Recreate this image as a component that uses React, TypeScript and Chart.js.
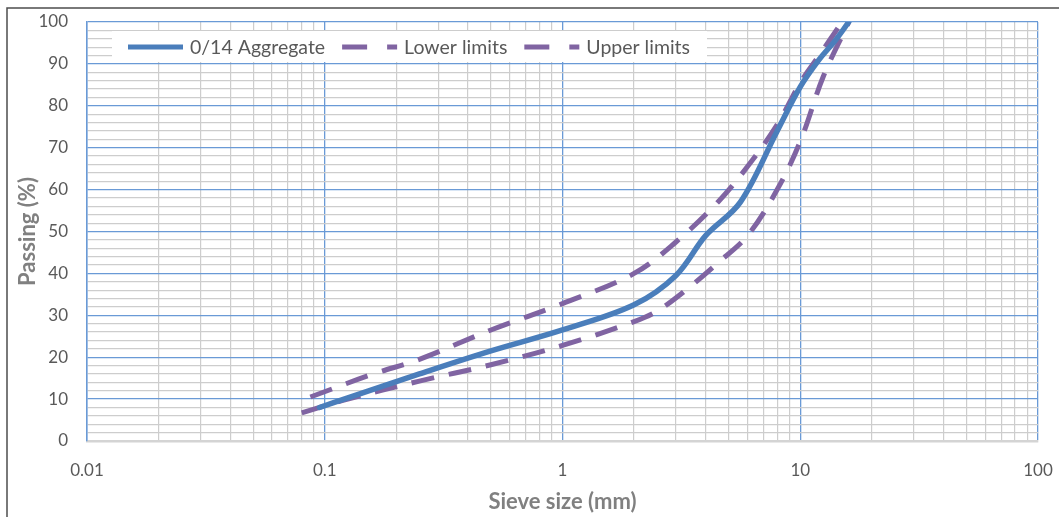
import React, { useEffect, useRef } from 'react';
import { Chart, registerables } from 'chart.js';

Chart.register(...registerables);

// ---- data ----
const seriesNames = ['0/14 Aggregate', 'Lower limits', 'Upper limits'];

const aggregateSize = [0.095, 0.125, 0.25, 0.5, 1, 2, 3, 4, 5.6, 8, 10, 12, 14, 16];
const aggregatePassing = [8, 10.3, 16, 21.5, 26.5, 32.5, 39.5, 49, 57, 74, 84.5, 91, 95.5, 100];

const lowerSize = [0.08, 0.125, 0.25, 0.5, 1, 2, 2.5, 3.3, 4.5, 6, 8, 10, 12.5, 16];
const lowerPassing = [6.7, 10, 14.3, 18.2, 22.8, 28.5, 31, 36, 42.5, 49, 60, 71.5, 87, 100];

const upperSize = [0.087, 0.16, 0.25, 0.5, 1, 2, 3, 4.5, 6, 8, 10, 12, 15];
const upperPassing = [10.5, 16, 19.5, 26.5, 32.8, 40, 47.5, 57, 65.5, 75.5, 85.5, 92, 100];

const xTickValues = [
  0.01, 0.02, 0.03, 0.04, 0.05, 0.06, 0.07, 0.08, 0.09,
  0.1, 0.2, 0.3, 0.4, 0.5, 0.6, 0.7, 0.8, 0.9,
  1, 2, 3, 4, 5, 6, 7, 8, 9,
  10, 20, 30, 40, 50, 60, 70, 80, 90,
  100,
];
const xMajorValues = [0.01, 0.1, 1, 10, 100];
const xTickLabels = ['0.01', '0.1', '1', '10', '100'];

const yMin = 0;
const yMax = 100;
const yMinorStep = 2;
const yMajorStep = 10;

const BLUE = '#4A7EBB';
const PURPLE = '#8064A2';
const GRID_MAJOR = '#6A9AD6';
const GRID_MINOR = '#CDCDCD';
const TEXT = '#595959';
const TITLE = '#808080';
const FONT = 'Lato';

const majorIndex = (v: number) =>
  xMajorValues.findIndex((m) => Math.abs(m - v) / m < 1e-6);

const toPoints = (xs: number[], ys: number[]) => xs.map((x, i) => ({ x, y: ys[i] }));

const zeroPadding = (scale: any) => {
  scale.paddingLeft = 0;
  scale.paddingRight = 0;
  scale.paddingTop = 0;
  scale.paddingBottom = 0;
};

const framePlugin = {
  id: 'frame',
  beforeDraw(chart: any) {
    const { ctx, width, height } = chart;
    ctx.save();
    ctx.fillStyle = '#ffffff';
    ctx.fillRect(0, 0, width, height);
    ctx.strokeStyle = '#4d4d4d';
    ctx.lineWidth = 1.5;
    ctx.beginPath();
    ctx.moveTo(7, height + 2);
    ctx.lineTo(7, 8);
    ctx.lineTo(width + 2, 8);
    ctx.stroke();
    ctx.restore();
  },
};

const legendPlugin = {
  id: 'insideLegend',
  afterDatasetsDraw(chart: any) {
    const { ctx } = chart;
    ctx.save();
    ctx.fillStyle = '#ffffff';
    ctx.fillRect(112, 31, 595, 31);
    ctx.font = `19.5px ${FONT}`;
    ctx.textBaseline = 'middle';
    ctx.textAlign = 'left';
    const y = 47;
    let x = 128;
    chart.data.datasets.forEach((ds: any, i: number) => {
      ctx.strokeStyle = ds.borderColor;
      ctx.lineWidth = 5;
      ctx.lineCap = 'butt';
      ctx.setLineDash(i === 0 ? [] : [25, 20]);
      ctx.beginPath();
      ctx.moveTo(x, y);
      ctx.lineTo(x + 55, y);
      ctx.stroke();
      ctx.setLineDash([]);
      ctx.fillStyle = TEXT;
      ctx.fillText(ds.label, x + 62, y + 1);
      x += 62 + ctx.measureText(ds.label).width + 17;
    });
    ctx.restore();
  },
};

export default function App() {
  const canvasRef = useRef<HTMLCanvasElement | null>(null);

  useEffect(() => {
    document.body.style.margin = '0';
    const canvas = canvasRef.current;
    if (!canvas) return;
    const chart = new Chart(canvas, {
      type: 'line',
      data: {
        datasets: [
          {
            label: seriesNames[0],
            data: toPoints(aggregateSize, aggregatePassing),
            borderColor: BLUE,
            backgroundColor: BLUE,
            borderWidth: 5.5,
            pointRadius: 0,
            tension: 0.35,
            borderCapStyle: 'round',
          },
          {
            label: seriesNames[1],
            data: toPoints(lowerSize, lowerPassing),
            borderColor: PURPLE,
            backgroundColor: PURPLE,
            borderWidth: 5,
            borderDash: [23, 15],
            pointRadius: 0,
            tension: 0.35,
          },
          {
            label: seriesNames[2],
            data: toPoints(upperSize, upperPassing),
            borderColor: PURPLE,
            backgroundColor: PURPLE,
            borderWidth: 5,
            borderDash: [23, 15],
            pointRadius: 0,
            tension: 0.35,
          },
        ],
      },
      options: {
        animation: false,
        responsive: false,
        devicePixelRatio: 1,
        layout: { padding: { top: 22, right: 21, left: 0, bottom: 0 } },
        plugins: {
          legend: { display: false },
          title: { display: false },
          tooltip: { enabled: false },
        },
        scales: {
          x: {
            type: 'logarithmic',
            min: 0.01,
            max: 100,
            afterBuildTicks: (scale: any) => {
              scale.ticks = xTickValues.map((v) => ({ value: v, major: majorIndex(v) >= 0 }));
            },
            afterFit: (scale: any) => {
              scale.height = 76;
              zeroPadding(scale);
            },
            ticks: {
              autoSkip: false,
              maxRotation: 0,
              minRotation: 0,
              padding: 19,
              color: TEXT,
              font: { family: FONT, size: 17 },
              callback: (value: any) => {
                const i = majorIndex(Number(value));
                return i >= 0 ? xTickLabels[i] : '';
              },
            },
            grid: {
              drawTicks: false,
              color: (c: any) => (majorIndex(c.tick.value) >= 0 ? GRID_MAJOR : GRID_MINOR),
              lineWidth: (c: any) => (majorIndex(c.tick.value) >= 0 ? 1.3 : 1.2),
            },
            border: { color: '#D4D4D4', width: 2.5 },
            title: {
              display: true,
              text: 'Sieve size (mm)',
              color: TITLE,
              font: { family: FONT, size: 22, weight: 'bold' },
              padding: { top: 0, bottom: 2 },
            },
          },
          y: {
            type: 'linear',
            min: yMin,
            max: yMax,
            afterFit: (scale: any) => {
              scale.width = 87;
              zeroPadding(scale);
            },
            ticks: {
              stepSize: yMinorStep,
              autoSkip: false,
              padding: 19,
              color: TEXT,
              font: { family: FONT, size: 17 },
              callback: (value: any) => (Number(value) % yMajorStep === 0 ? String(value) : ''),
            },
            grid: {
              drawTicks: false,
              color: (c: any) => (c.tick.value % yMajorStep === 0 ? GRID_MAJOR : GRID_MINOR),
              lineWidth: (c: any) => (c.tick.value % yMajorStep === 0 ? 1.3 : 1.2),
            },
            border: { color: GRID_MAJOR, width: 1.5 },
            title: {
              display: true,
              text: 'Passing (%)',
              color: TITLE,
              font: { family: FONT, size: 22, weight: 'bold' },
              padding: { top: 15, bottom: 0 },
            },
          },
        },
      } as any,
      plugins: [framePlugin, legendPlugin],
    });
    return () => chart.destroy();
  }, []);

  return (
    <div style={{ width: 1059, height: 517 }}>
      <canvas ref={canvasRef} width={1059} height={517} />
    </div>
  );
}
